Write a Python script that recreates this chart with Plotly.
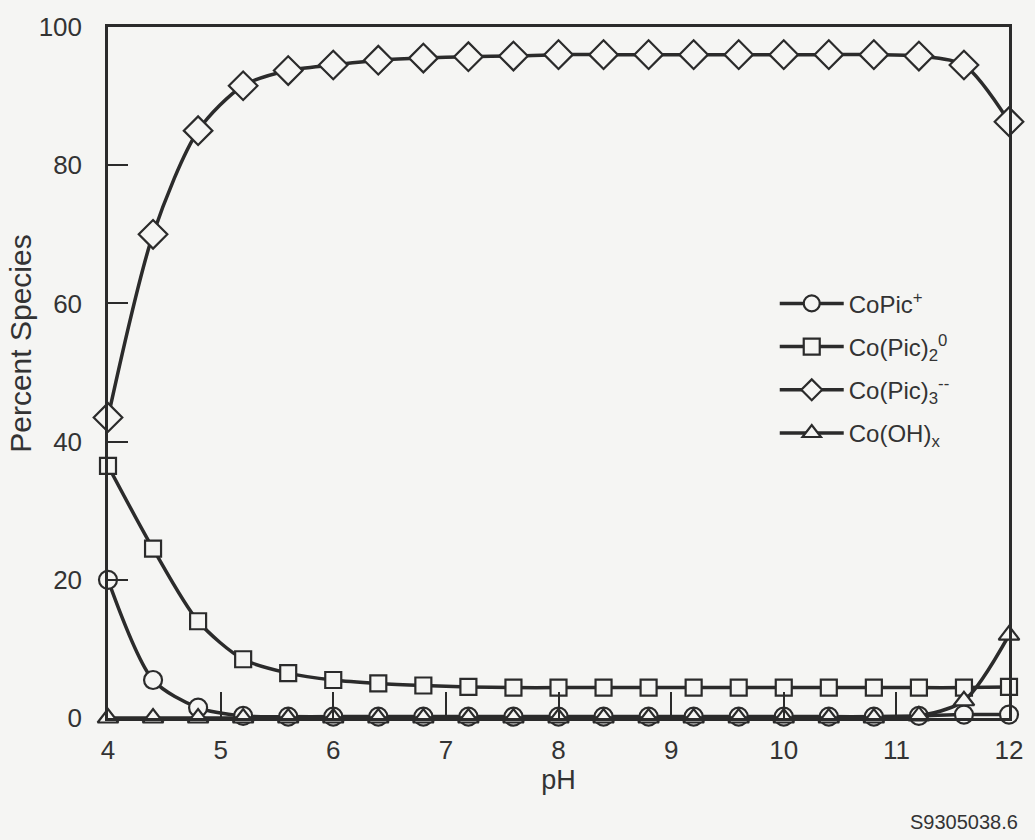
import plotly.graph_objects as go

ph = [4.0, 4.4, 4.8, 5.2, 5.6, 6.0, 6.4, 6.8, 7.2, 7.6, 8.0, 8.4, 8.8, 9.2, 9.6, 10.0, 10.4, 10.8, 11.2, 11.6, 12.0]
copic = [20.0, 5.5, 1.5, 0.3, 0.2, 0.2, 0.2, 0.2, 0.2, 0.2, 0.2, 0.2, 0.2, 0.2, 0.2, 0.2, 0.2, 0.2, 0.3, 0.5, 0.5]
copic2 = [36.5, 24.5, 14.0, 8.5, 6.5, 5.5, 5.0, 4.7, 4.5, 4.4, 4.4, 4.4, 4.4, 4.4, 4.4, 4.4, 4.4, 4.4, 4.4, 4.4, 4.5]
copic3 = [43.5, 70.0, 85.0, 91.5, 93.7, 94.5, 95.2, 95.5, 95.7, 95.8, 96.0, 96.0, 96.0, 96.0, 96.0, 96.0, 96.0, 96.0, 95.8, 94.5, 86.3]
cooh = [0.0, 0.0, 0.0, 0.0, 0.0, 0.0, 0.0, 0.0, 0.0, 0.0, 0.0, 0.0, 0.0, 0.0, 0.0, 0.0, 0.0, 0.0, 0.3, 2.5, 12.0]

names = ["CoPic<sup>+</sup>", "Co(Pic)<sub>2</sub><sup>0</sup>",
         "Co(Pic)<sub>3</sub><sup>--</sup>", "Co(OH)<sub>x</sub>"]
symbols = ["circle", "square", "diamond", "triangle-up"]
sizes = [18, 16, 22, 18]
series = [copic, copic2, copic3, cooh]

ink = "#2b2b2b"
bg = "#f5f5f3"
fig = go.Figure()
for i, (nm, sym, sz, ys) in enumerate(zip(names, symbols, sizes, series)):
    fig.add_trace(go.Scatter(
        x=ph, y=ys, name=nm, mode="lines+markers", legendgroup=str(i),
        line=dict(color=ink, width=3.5, shape="spline", smoothing=0.8),
        marker=dict(symbol=sym, size=sz, color=bg, line=dict(width=2.2, color=ink)),
        cliponaxis=False,
    ))

fig.update_layout(
    width=1035, height=840,
    margin=dict(l=108, r=16, t=23, b=122),
    paper_bgcolor=bg, plot_bgcolor=bg,
    font=dict(family="Liberation Sans, Arial, sans-serif", size=26, color="#333333"),
    showlegend=True,
    legend=dict(x=0.74, y=0.632, xanchor="left", yanchor="top",
                bgcolor="rgba(0,0,0,0)", traceorder="grouped", tracegroupgap=9,
                font=dict(size=24, color="#333333"), itemwidth=64),
    xaxis=dict(range=[4, 12], tickvals=[4, 5, 6, 7, 8, 9, 10, 11, 12],
               ticks="inside", ticklen=26, tickwidth=1.5, tickcolor=ink,
               ticklabelstandoff=7, tickfont=dict(size=26),
               showline=True, linecolor=ink, linewidth=2.5, mirror=True,
               showgrid=False, zeroline=False,
               title=dict(text="pH", standoff=6, font=dict(size=27))),
    yaxis=dict(range=[0, 100], tickvals=[0, 20, 40, 60, 80, 100],
               ticks="inside", ticklen=20, tickwidth=1.5, tickcolor=ink,
               ticklabelstandoff=18, tickfont=dict(size=26),
               showline=True, linecolor=ink, linewidth=2.5, mirror=True,
               showgrid=False, zeroline=False),
    annotations=[
        dict(text="Percent Species", xref="paper", yref="paper",
             x=-0.097, y=0.541, xanchor="center", yanchor="middle", textangle=-90,
             showarrow=False, font=dict(size=30, color="#333333")),
        dict(text="S9305038.6", xref="paper", yref="paper",
             x=1.012, y=-0.132, xanchor="right", yanchor="top",
             showarrow=False, font=dict(size=20, color="#333333")),
    ],
)
fig.write_html("out.html", config={"displayModeBar": False},
               post_script="document.body.style.margin='0';document.body.style.background='%s';" % bg)
